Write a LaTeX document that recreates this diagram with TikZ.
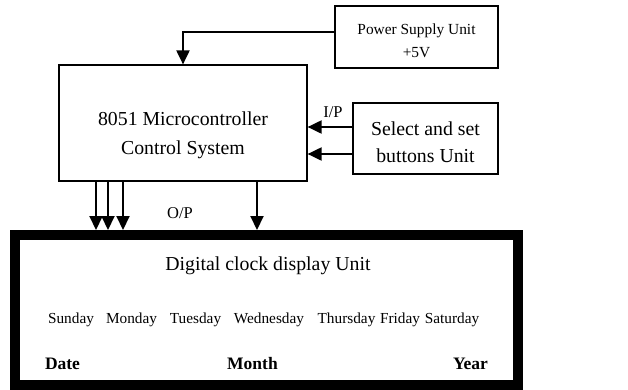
\documentclass[tikz,border=0pt]{standalone}
\usepackage{fontspec}
\setmainfont{Liberation Serif}
\usepackage{tikz}
\usetikzlibrary{arrows.meta,positioning}

\tikzset{
  unitbox/.style={draw,line width=1.2pt,inner sep=0pt},
  conn/.style={line width=2pt,-{Triangle[length=14pt,width=13pt]}},
  bigtxt/.style={inner sep=0pt,align=center,font=\fontsize{19.8}{29}\selectfont},
  smalltxt/.style={inner sep=0pt,align=center,font=\fontsize{15.4}{23}\selectfont},
  daytxt/.style={inner sep=0pt,font=\fontsize{15.3}{18}\selectfont},
  boldtxt/.style={inner sep=0pt,font=\fontsize{17.5}{20}\selectfont\bfseries}
}

\begin{document}
\begin{tikzpicture}[x=1pt,y=1pt,yscale=-1,xscale=1]
\useasboundingbox (0,0) rectangle (628,389);
%Shape: Rectangle
\node (psu) [unitbox,minimum width=163pt,minimum height=62pt] at (416.5,37) {};
%Shape: Rectangle
\node (mcu) [unitbox,minimum width=248pt,minimum height=116pt] at (183,123) {};
%Shape: Rectangle
\node (btn) [unitbox,minimum width=145pt,minimum height=71pt] at (425.5,138.5) {};
%Shape: Rectangle
\node (disp) [draw,line width=10pt,inner sep=0pt,minimum width=503pt,minimum height=149.5pt] at (266.5,309.75) {};
% Text Node
\node (psutxt) [smalltxt] at (416.5,41) {Power Supply Unit\\+5V};
% Text Node
\node (mcutxt) [bigtxt] at (183,135) {8051 Microcontroller\\Control System};
% Text Node
\node (btntxt) [bigtxt,font=\fontsize{19.8}{27}\selectfont] at (425.5,142) {Select and set\\buttons Unit};
%Straight Lines
\draw [conn] (psu.west |- 0,32) -| (mcu.north);
%Straight Lines
\draw [conn] (btn.west |- 0,127) -- (mcu.east |- 0,127);
\draw [conn] (btn.west |- 0,154) -- (mcu.east |- 0,154);
%Straight Lines
\draw [conn] (mcu.south -| 96,0) -- (disp.north -| 96,0);
\draw [conn] (mcu.south -| 108,0) -- (disp.north -| 108,0);
\draw [conn] (mcu.south -| 123,0) -- (disp.north -| 123,0);
\draw [conn] (mcu.south -| 257,0) -- (disp.north -| 257,0);
% Text Node
\node (ip) [inner sep=0pt,font=\fontsize{16.5}{18}\selectfont] at (333,112) {I/P};
% Text Node
\node (op) [inner sep=0pt,font=\fontsize{16.5}{18}\selectfont] at (180,213) {O/P};
% Text Node
\node (title) [inner sep=0pt,font=\fontsize{19.8}{22}\selectfont] at (268,266) {Digital clock display Unit};
% Text Node
\node (sun) [daytxt] at (71,320) {Sunday};
\node (mon) [daytxt] at (131.5,320) {Monday};
\node (tue) [daytxt] at (195.5,320) {Tuesday};
\node (wed) [daytxt] at (269,320) {Wednesday};
\node (thu) [daytxt] at (346.5,320) {Thursday};
\node (fri) [daytxt] at (400,320) {Friday};
\node (sat) [daytxt] at (452,320) {Saturday};
% Text Node
\node (date) [boldtxt] at (62.5,364) {Date};
\node (month) [boldtxt] at (252.5,364) {Month};
\node (year) [boldtxt] at (470.5,364) {Year};
\end{tikzpicture}
\end{document}
